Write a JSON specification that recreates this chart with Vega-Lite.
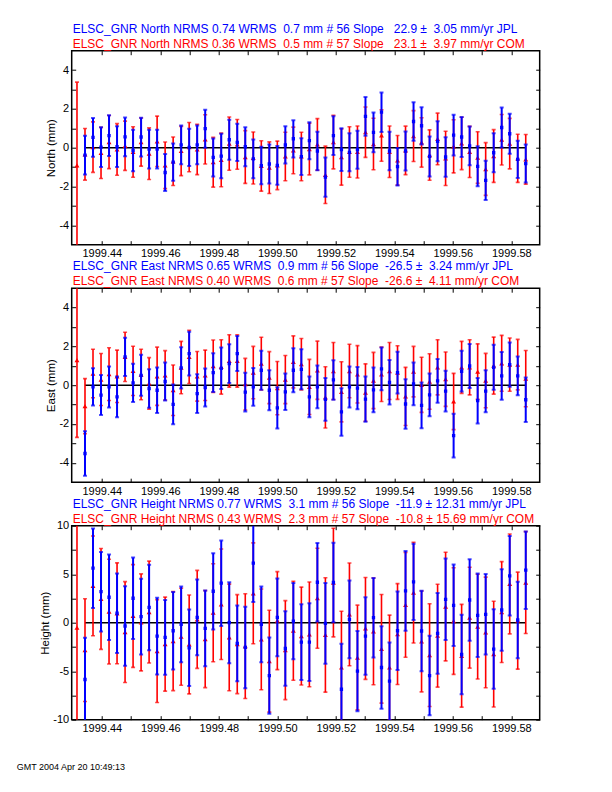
{
"$schema": "https://vega.github.io/schema/vega-lite/v6.json",
"background": "white",
"autosize": {"type": "pad"},
"padding": {"left": 16.7, "top": 21.7, "right": 5, "bottom": 5},
"title": {"text": "GMT  2004 Apr 20 10:49:13", "orient": "bottom", "anchor": "start", "frame": "group", "dx": -55, "offset": 29, "fontSize": 9, "color": "black", "font": "Liberation Sans"},
"datasets": {"d": [
{"c":"N","o":"COM","t":1999.431507,"v":-0.91,"e":4.29},
{"c":"N","o":"COM","t":1999.434247,"v":-0.34,"e":1.33},
{"c":"N","o":"COM","t":1999.436986,"v":0.03,"e":1.3},
{"c":"N","o":"COM","t":1999.439726,"v":-0.27,"e":1.32},
{"c":"N","o":"COM","t":1999.442466,"v":0.29,"e":1.37},
{"c":"N","o":"COM","t":1999.445205,"v":-0.09,"e":1.33},
{"c":"N","o":"COM","t":1999.447945,"v":0.10,"e":1.27},
{"c":"N","o":"COM","t":1999.450685,"v":-0.22,"e":1.3},
{"c":"N","o":"COM","t":1999.453425,"v":0.29,"e":1.24},
{"c":"N","o":"COM","t":1999.456164,"v":-0.31,"e":1.33},
{"c":"N","o":"COM","t":1999.458904,"v":0.33,"e":1.3},
{"c":"N","o":"COM","t":1999.461644,"v":-0.91,"e":1.2},
{"c":"N","o":"COM","t":1999.464384,"v":-0.70,"e":1.25},
{"c":"N","o":"COM","t":1999.467123,"v":-0.17,"e":1.27},
{"c":"N","o":"COM","t":1999.469863,"v":0.03,"e":1.27},
{"c":"N","o":"COM","t":1999.472603,"v":-0.09,"e":1.3},
{"c":"N","o":"COM","t":1999.475342,"v":0.43,"e":1.27},
{"c":"N","o":"COM","t":1999.478082,"v":-0.75,"e":1.28},
{"c":"N","o":"COM","t":1999.480822,"v":-0.63,"e":1.38},
{"c":"N","o":"COM","t":1999.483562,"v":0.21,"e":1.37},
{"c":"N","o":"COM","t":1999.486301,"v":0.17,"e":1.28},
{"c":"N","o":"COM","t":1999.489041,"v":-0.48,"e":1.36},
{"c":"N","o":"COM","t":1999.491781,"v":-0.53,"e":1.34},
{"c":"N","o":"COM","t":1999.494521,"v":-0.94,"e":1.3},
{"c":"N","o":"COM","t":1999.497260,"v":-1.03,"e":1.33},
{"c":"N","o":"COM","t":1999.500000,"v":-0.91,"e":1.25},
{"c":"N","o":"COM","t":1999.502740,"v":-0.45,"e":1.25},
{"c":"N","o":"COM","t":1999.505479,"v":-0.14,"e":1.2},
{"c":"N","o":"COM","t":1999.508219,"v":-0.45,"e":1.25},
{"c":"N","o":"COM","t":1999.510959,"v":-0.07,"e":1.33},
{"c":"N","o":"COM","t":1999.513699,"v":0.17,"e":1.33},
{"c":"N","o":"COM","t":1999.516438,"v":-1.40,"e":1.48},
{"c":"N","o":"COM","t":1999.519178,"v":0.29,"e":1.38},
{"c":"N","o":"COM","t":1999.521918,"v":-0.48,"e":1.45},
{"c":"N","o":"COM","t":1999.524658,"v":-0.22,"e":1.3},
{"c":"N","o":"COM","t":1999.527397,"v":-0.22,"e":1.34},
{"c":"N","o":"COM","t":1999.530137,"v":0.80,"e":1.3},
{"c":"N","o":"COM","t":1999.532877,"v":0.19,"e":1.33},
{"c":"N","o":"COM","t":1999.535616,"v":0.63,"e":1.33},
{"c":"N","o":"COM","t":1999.538356,"v":-0.21,"e":1.33},
{"c":"N","o":"COM","t":1999.541096,"v":-0.65,"e":1.28},
{"c":"N","o":"COM","t":1999.543836,"v":-0.14,"e":1.25},
{"c":"N","o":"COM","t":1999.546575,"v":0.60,"e":1.31},
{"c":"N","o":"COM","t":1999.549315,"v":0.27,"e":1.27},
{"c":"N","o":"COM","t":1999.552055,"v":-0.38,"e":1.3},
{"c":"N","o":"COM","t":1999.554795,"v":0.45,"e":1.33},
{"c":"N","o":"COM","t":1999.557534,"v":-0.55,"e":1.4},
{"c":"N","o":"COM","t":1999.560274,"v":0.07,"e":1.37},
{"c":"N","o":"COM","t":1999.563014,"v":0.22,"e":1.35},
{"c":"N","o":"COM","t":1999.565753,"v":-0.22,"e":1.32},
{"c":"N","o":"COM","t":1999.568493,"v":-0.51,"e":1.33},
{"c":"N","o":"COM","t":1999.571233,"v":-1.10,"e":1.36},
{"c":"N","o":"COM","t":1999.573973,"v":-0.43,"e":1.36},
{"c":"N","o":"COM","t":1999.576712,"v":0.41,"e":1.3},
{"c":"N","o":"COM","t":1999.579452,"v":0.21,"e":1.3},
{"c":"N","o":"COM","t":1999.582192,"v":-0.55,"e":1.24},
{"c":"N","o":"COM","t":1999.584932,"v":-0.60,"e":1.28},
{"c":"N","o":"JPL","t":1999.434247,"v":-0.38,"e":1.0},
{"c":"N","o":"JPL","t":1999.436986,"v":0.53,"e":1.0},
{"c":"N","o":"JPL","t":1999.439726,"v":0.03,"e":1.03},
{"c":"N","o":"JPL","t":1999.442466,"v":0.62,"e":1.05},
{"c":"N","o":"JPL","t":1999.445205,"v":0.05,"e":1.05},
{"c":"N","o":"JPL","t":1999.447945,"v":0.56,"e":1.0},
{"c":"N","o":"JPL","t":1999.450685,"v":-0.14,"e":1.07},
{"c":"N","o":"JPL","t":1999.453425,"v":0.55,"e":1.0},
{"c":"N","o":"JPL","t":1999.456164,"v":-0.07,"e":1.0},
{"c":"N","o":"JPL","t":1999.458904,"v":-0.07,"e":1.0},
{"c":"N","o":"JPL","t":1999.461644,"v":-1.28,"e":0.95},
{"c":"N","o":"JPL","t":1999.464384,"v":-0.74,"e":0.96},
{"c":"N","o":"JPL","t":1999.467123,"v":0.15,"e":1.0},
{"c":"N","o":"JPL","t":1999.469863,"v":0.02,"e":0.96},
{"c":"N","o":"JPL","t":1999.472603,"v":0.15,"e":1.0},
{"c":"N","o":"JPL","t":1999.475342,"v":0.98,"e":0.98},
{"c":"N","o":"JPL","t":1999.478082,"v":-0.50,"e":0.98},
{"c":"N","o":"JPL","t":1999.480822,"v":-0.43,"e":1.15},
{"c":"N","o":"JPL","t":1999.483562,"v":0.41,"e":1.03},
{"c":"N","o":"JPL","t":1999.486301,"v":0.27,"e":0.96},
{"c":"N","o":"JPL","t":1999.489041,"v":0.05,"e":1.01},
{"c":"N","o":"JPL","t":1999.491781,"v":-0.58,"e":1.0},
{"c":"N","o":"JPL","t":1999.494521,"v":-0.92,"e":0.97},
{"c":"N","o":"JPL","t":1999.497260,"v":-0.84,"e":1.0},
{"c":"N","o":"JPL","t":1999.500000,"v":-0.91,"e":1.0},
{"c":"N","o":"JPL","t":1999.502740,"v":0.14,"e":0.96},
{"c":"N","o":"JPL","t":1999.505479,"v":0.46,"e":0.96},
{"c":"N","o":"JPL","t":1999.508219,"v":-0.46,"e":0.95},
{"c":"N","o":"JPL","t":1999.510959,"v":0.36,"e":0.95},
{"c":"N","o":"JPL","t":1999.513699,"v":-0.17,"e":0.99},
{"c":"N","o":"JPL","t":1999.516438,"v":-1.52,"e":1.01},
{"c":"N","o":"JPL","t":1999.519178,"v":0.62,"e":1.0},
{"c":"N","o":"JPL","t":1999.521918,"v":-0.10,"e":1.1},
{"c":"N","o":"JPL","t":1999.524658,"v":-0.24,"e":0.98},
{"c":"N","o":"JPL","t":1999.527397,"v":-0.10,"e":0.98},
{"c":"N","o":"JPL","t":1999.530137,"v":1.61,"e":1.0},
{"c":"N","o":"JPL","t":1999.532877,"v":0.79,"e":1.02},
{"c":"N","o":"JPL","t":1999.535616,"v":1.83,"e":1.02},
{"c":"N","o":"JPL","t":1999.538356,"v":-0.17,"e":0.99},
{"c":"N","o":"JPL","t":1999.541096,"v":-0.98,"e":0.97},
{"c":"N","o":"JPL","t":1999.543836,"v":-0.17,"e":1.0},
{"c":"N","o":"JPL","t":1999.546575,"v":1.35,"e":0.99},
{"c":"N","o":"JPL","t":1999.549315,"v":1.13,"e":0.96},
{"c":"N","o":"JPL","t":1999.552055,"v":-0.45,"e":1.03},
{"c":"N","o":"JPL","t":1999.554795,"v":0.33,"e":1.03},
{"c":"N","o":"JPL","t":1999.557534,"v":-0.48,"e":1.02},
{"c":"N","o":"JPL","t":1999.560274,"v":0.65,"e":1.05},
{"c":"N","o":"JPL","t":1999.563014,"v":0.55,"e":1.03},
{"c":"N","o":"JPL","t":1999.565753,"v":0.09,"e":1.0},
{"c":"N","o":"JPL","t":1999.568493,"v":-0.96,"e":1.03},
{"c":"N","o":"JPL","t":1999.571233,"v":-1.68,"e":1.01},
{"c":"N","o":"JPL","t":1999.573973,"v":-0.26,"e":1.0},
{"c":"N","o":"JPL","t":1999.576712,"v":1.04,"e":1.03},
{"c":"N","o":"JPL","t":1999.579452,"v":0.72,"e":1.03},
{"c":"N","o":"JPL","t":1999.582192,"v":-0.60,"e":0.96},
{"c":"N","o":"JPL","t":1999.584932,"v":-0.82,"e":0.98},
{"c":"E","o":"COM","t":1999.431507,"v":1.29,"e":3.98},
{"c":"E","o":"COM","t":1999.434247,"v":-1.08,"e":1.42},
{"c":"E","o":"COM","t":1999.436986,"v":0.60,"e":1.25},
{"c":"E","o":"COM","t":1999.439726,"v":0.29,"e":1.34},
{"c":"E","o":"COM","t":1999.442466,"v":0.57,"e":1.36},
{"c":"E","o":"COM","t":1999.445205,"v":0.46,"e":1.35},
{"c":"E","o":"COM","t":1999.447945,"v":1.46,"e":1.27},
{"c":"E","o":"COM","t":1999.450685,"v":0.74,"e":1.27},
{"c":"E","o":"COM","t":1999.453425,"v":0.55,"e":1.3},
{"c":"E","o":"COM","t":1999.456164,"v":0.09,"e":1.33},
{"c":"E","o":"COM","t":1999.458904,"v":0.46,"e":1.5},
{"c":"E","o":"COM","t":1999.461644,"v":0.51,"e":1.27},
{"c":"E","o":"COM","t":1999.464384,"v":-0.26,"e":1.3},
{"c":"E","o":"COM","t":1999.467123,"v":0.91,"e":1.35},
{"c":"E","o":"COM","t":1999.469863,"v":1.46,"e":1.37},
{"c":"E","o":"COM","t":1999.472603,"v":0.46,"e":1.28},
{"c":"E","o":"COM","t":1999.475342,"v":0.51,"e":1.3},
{"c":"E","o":"COM","t":1999.478082,"v":0.98,"e":1.35},
{"c":"E","o":"COM","t":1999.480822,"v":0.94,"e":1.4},
{"c":"E","o":"COM","t":1999.483562,"v":1.25,"e":1.35},
{"c":"E","o":"COM","t":1999.486301,"v":1.25,"e":1.35},
{"c":"E","o":"COM","t":1999.489041,"v":0.05,"e":1.33},
{"c":"E","o":"COM","t":1999.491781,"v":0.65,"e":1.35},
{"c":"E","o":"COM","t":1999.494521,"v":1.11,"e":1.36},
{"c":"E","o":"COM","t":1999.497260,"v":0.39,"e":1.34},
{"c":"E","o":"COM","t":1999.500000,"v":-0.15,"e":1.37},
{"c":"E","o":"COM","t":1999.502740,"v":0.29,"e":1.24},
{"c":"E","o":"COM","t":1999.505479,"v":1.20,"e":1.34},
{"c":"E","o":"COM","t":1999.508219,"v":1.08,"e":1.33},
{"c":"E","o":"COM","t":1999.510959,"v":-0.09,"e":1.42},
{"c":"E","o":"COM","t":1999.513699,"v":0.77,"e":1.5},
{"c":"E","o":"COM","t":1999.516438,"v":-0.63,"e":1.58},
{"c":"E","o":"COM","t":1999.519178,"v":0.73,"e":1.47},
{"c":"E","o":"COM","t":1999.521918,"v":-0.34,"e":1.55},
{"c":"E","o":"COM","t":1999.524658,"v":0.73,"e":1.38},
{"c":"E","o":"COM","t":1999.527397,"v":0.56,"e":1.48},
{"c":"E","o":"COM","t":1999.530137,"v":-0.38,"e":1.48},
{"c":"E","o":"COM","t":1999.532877,"v":0.24,"e":1.45},
{"c":"E","o":"COM","t":1999.535616,"v":0.56,"e":1.4},
{"c":"E","o":"COM","t":1999.538356,"v":0.73,"e":1.47},
{"c":"E","o":"COM","t":1999.541096,"v":0.65,"e":1.38},
{"c":"E","o":"COM","t":1999.543836,"v":-0.58,"e":1.5},
{"c":"E","o":"COM","t":1999.546575,"v":0.70,"e":1.3},
{"c":"E","o":"COM","t":1999.549315,"v":0.02,"e":1.42},
{"c":"E","o":"COM","t":1999.552055,"v":0.19,"e":1.43},
{"c":"E","o":"COM","t":1999.554795,"v":0.92,"e":1.42},
{"c":"E","o":"COM","t":1999.557534,"v":0.31,"e":1.4},
{"c":"E","o":"COM","t":1999.560274,"v":-0.84,"e":1.45},
{"c":"E","o":"COM","t":1999.563014,"v":0.92,"e":1.34},
{"c":"E","o":"COM","t":1999.565753,"v":0.92,"e":1.42},
{"c":"E","o":"COM","t":1999.568493,"v":0.70,"e":1.43},
{"c":"E","o":"COM","t":1999.571233,"v":0.24,"e":1.4},
{"c":"E","o":"COM","t":1999.573973,"v":1.01,"e":1.47},
{"c":"E","o":"COM","t":1999.576712,"v":1.13,"e":1.44},
{"c":"E","o":"COM","t":1999.579452,"v":1.06,"e":1.37},
{"c":"E","o":"COM","t":1999.582192,"v":1.06,"e":1.3},
{"c":"E","o":"COM","t":1999.584932,"v":0.34,"e":1.45},
{"c":"E","o":"JPL","t":1999.434247,"v":-3.52,"e":1.15},
{"c":"E","o":"JPL","t":1999.436986,"v":-0.09,"e":0.96},
{"c":"E","o":"JPL","t":1999.439726,"v":-0.51,"e":1.03},
{"c":"E","o":"JPL","t":1999.442466,"v":-0.09,"e":1.06},
{"c":"E","o":"JPL","t":1999.445205,"v":-0.60,"e":1.05},
{"c":"E","o":"JPL","t":1999.447945,"v":1.46,"e":0.98},
{"c":"E","o":"JPL","t":1999.450685,"v":0.12,"e":0.99},
{"c":"E","o":"JPL","t":1999.453425,"v":0.51,"e":1.06},
{"c":"E","o":"JPL","t":1999.456164,"v":-0.17,"e":0.99},
{"c":"E","o":"JPL","t":1999.458904,"v":-0.26,"e":1.17},
{"c":"E","o":"JPL","t":1999.461644,"v":0.19,"e":0.98},
{"c":"E","o":"JPL","t":1999.464384,"v":-0.99,"e":1.02},
{"c":"E","o":"JPL","t":1999.467123,"v":0.89,"e":1.06},
{"c":"E","o":"JPL","t":1999.469863,"v":1.63,"e":1.13},
{"c":"E","o":"JPL","t":1999.472603,"v":-0.43,"e":1.0},
{"c":"E","o":"JPL","t":1999.475342,"v":-0.12,"e":0.98},
{"c":"E","o":"JPL","t":1999.478082,"v":0.65,"e":1.0},
{"c":"E","o":"JPL","t":1999.480822,"v":0.87,"e":1.07},
{"c":"E","o":"JPL","t":1999.483562,"v":1.11,"e":1.0},
{"c":"E","o":"JPL","t":1999.486301,"v":1.63,"e":0.9},
{"c":"E","o":"JPL","t":1999.489041,"v":-0.36,"e":1.0},
{"c":"E","o":"JPL","t":1999.491781,"v":-0.09,"e":0.97},
{"c":"E","o":"JPL","t":1999.494521,"v":0.77,"e":1.0},
{"c":"E","o":"JPL","t":1999.497260,"v":-0.26,"e":1.03},
{"c":"E","o":"JPL","t":1999.500000,"v":-1.17,"e":1.06},
{"c":"E","o":"JPL","t":1999.502740,"v":-0.34,"e":0.94},
{"c":"E","o":"JPL","t":1999.505479,"v":0.77,"e":1.14},
{"c":"E","o":"JPL","t":1999.508219,"v":0.82,"e":1.03},
{"c":"E","o":"JPL","t":1999.510959,"v":-0.60,"e":1.05},
{"c":"E","o":"JPL","t":1999.513699,"v":-0.09,"e":1.1},
{"c":"E","o":"JPL","t":1999.516438,"v":-0.73,"e":1.1},
{"c":"E","o":"JPL","t":1999.519178,"v":0.27,"e":1.02},
{"c":"E","o":"JPL","t":1999.521918,"v":-1.38,"e":1.22},
{"c":"E","o":"JPL","t":1999.524658,"v":-0.09,"e":1.06},
{"c":"E","o":"JPL","t":1999.527397,"v":-0.15,"e":1.09},
{"c":"E","o":"JPL","t":1999.530137,"v":-0.72,"e":1.17},
{"c":"E","o":"JPL","t":1999.532877,"v":-0.24,"e":1.15},
{"c":"E","o":"JPL","t":1999.535616,"v":0.84,"e":1.1},
{"c":"E","o":"JPL","t":1999.538356,"v":0.15,"e":1.15},
{"c":"E","o":"JPL","t":1999.541096,"v":0.65,"e":1.08},
{"c":"E","o":"JPL","t":1999.543836,"v":-0.97,"e":1.28},
{"c":"E","o":"JPL","t":1999.546575,"v":0.07,"e":1.1},
{"c":"E","o":"JPL","t":1999.549315,"v":-1.04,"e":1.18},
{"c":"E","o":"JPL","t":1999.552055,"v":-0.50,"e":1.1},
{"c":"E","o":"JPL","t":1999.554795,"v":0.22,"e":1.13},
{"c":"E","o":"JPL","t":1999.557534,"v":-0.31,"e":1.05},
{"c":"E","o":"JPL","t":1999.560274,"v":-2.60,"e":1.13},
{"c":"E","o":"JPL","t":1999.563014,"v":0.72,"e":1.05},
{"c":"E","o":"JPL","t":1999.565753,"v":0.99,"e":1.13},
{"c":"E","o":"JPL","t":1999.568493,"v":-0.80,"e":1.17},
{"c":"E","o":"JPL","t":1999.571233,"v":-0.31,"e":1.08},
{"c":"E","o":"JPL","t":1999.573973,"v":0.92,"e":1.16},
{"c":"E","o":"JPL","t":1999.576712,"v":0.48,"e":1.23},
{"c":"E","o":"JPL","t":1999.579452,"v":1.06,"e":1.14},
{"c":"E","o":"JPL","t":1999.582192,"v":0.48,"e":1.0},
{"c":"E","o":"JPL","t":1999.584932,"v":-0.75,"e":1.15},
{"c":"H","o":"COM","t":1999.431507,"v":-0.52,"e":11},
{"c":"H","o":"COM","t":1999.434247,"v":-2.83,"e":5.3},
{"c":"H","o":"COM","t":1999.436986,"v":3.79,"e":5.14},
{"c":"H","o":"COM","t":1999.439726,"v":2.45,"e":5.2},
{"c":"H","o":"COM","t":1999.442466,"v":1.14,"e":5.4},
{"c":"H","o":"COM","t":1999.445205,"v":0.97,"e":5.2},
{"c":"H","o":"COM","t":1999.447945,"v":-0.97,"e":5.2},
{"c":"H","o":"COM","t":1999.450685,"v":0.69,"e":5.3},
{"c":"H","o":"COM","t":1999.453425,"v":0.03,"e":5.0},
{"c":"H","o":"COM","t":1999.456164,"v":1.10,"e":5.25},
{"c":"H","o":"COM","t":1999.458904,"v":-2.93,"e":5.3},
{"c":"H","o":"COM","t":1999.461644,"v":-2.21,"e":4.85},
{"c":"H","o":"COM","t":1999.464384,"v":-1.90,"e":5.1},
{"c":"H","o":"COM","t":1999.467123,"v":-1.45,"e":5.0},
{"c":"H","o":"COM","t":1999.469863,"v":-2.24,"e":5.1},
{"c":"H","o":"COM","t":1999.472603,"v":0.34,"e":5.05},
{"c":"H","o":"COM","t":1999.475342,"v":-1.69,"e":5.0},
{"c":"H","o":"COM","t":1999.478082,"v":1.03,"e":5.05},
{"c":"H","o":"COM","t":1999.480822,"v":1.90,"e":5.7},
{"c":"H","o":"COM","t":1999.483562,"v":-1.52,"e":5.5},
{"c":"H","o":"COM","t":1999.486301,"v":-2.21,"e":5.1},
{"c":"H","o":"COM","t":1999.489041,"v":-2.41,"e":5.4},
{"c":"H","o":"COM","t":1999.491781,"v":3.03,"e":5.2},
{"c":"H","o":"COM","t":1999.494521,"v":-1.72,"e":5.2},
{"c":"H","o":"COM","t":1999.497260,"v":-3.97,"e":5.25},
{"c":"H","o":"COM","t":1999.500000,"v":0.21,"e":5.05},
{"c":"H","o":"COM","t":1999.502740,"v":-2.83,"e":5.1},
{"c":"H","o":"COM","t":1999.505479,"v":-0.83,"e":5.1},
{"c":"H","o":"COM","t":1999.508219,"v":-1.38,"e":5.05},
{"c":"H","o":"COM","t":1999.510959,"v":-1.21,"e":5.4},
{"c":"H","o":"COM","t":1999.513699,"v":2.52,"e":5.15},
{"c":"H","o":"COM","t":1999.516438,"v":-1.26,"e":5.9},
{"c":"H","o":"COM","t":1999.519178,"v":4.14,"e":5.6},
{"c":"H","o":"COM","t":1999.521918,"v":-4.62,"e":5.8},
{"c":"H","o":"COM","t":1999.524658,"v":0.86,"e":5.3},
{"c":"H","o":"COM","t":1999.527397,"v":-3.59,"e":5.4},
{"c":"H","o":"COM","t":1999.530137,"v":-0.59,"e":5.25},
{"c":"H","o":"COM","t":1999.532877,"v":-0.90,"e":5.5},
{"c":"H","o":"COM","t":1999.535616,"v":-2.69,"e":5.6},
{"c":"H","o":"COM","t":1999.538356,"v":-4.62,"e":5.4},
{"c":"H","o":"COM","t":1999.541096,"v":-1.17,"e":5.2},
{"c":"H","o":"COM","t":1999.543836,"v":1.83,"e":5.4},
{"c":"H","o":"COM","t":1999.546575,"v":3.10,"e":5.2},
{"c":"H","o":"COM","t":1999.549315,"v":-1.93,"e":5.2},
{"c":"H","o":"COM","t":1999.552055,"v":-3.34,"e":5.3},
{"c":"H","o":"COM","t":1999.554795,"v":-1.34,"e":5.3},
{"c":"H","o":"COM","t":1999.557534,"v":1.66,"e":5.6},
{"c":"H","o":"COM","t":1999.560274,"v":0.17,"e":5.5},
{"c":"H","o":"COM","t":1999.563014,"v":-3.41,"e":5.3},
{"c":"H","o":"COM","t":1999.565753,"v":0.52,"e":5.2},
{"c":"H","o":"COM","t":1999.568493,"v":-0.41,"e":5.4},
{"c":"H","o":"COM","t":1999.571233,"v":-1.00,"e":5.7},
{"c":"H","o":"COM","t":1999.573973,"v":-3.24,"e":5.45},
{"c":"H","o":"COM","t":1999.576712,"v":1.10,"e":5.2},
{"c":"H","o":"COM","t":1999.579452,"v":4.00,"e":5.15},
{"c":"H","o":"COM","t":1999.582192,"v":0.21,"e":5.0},
{"c":"H","o":"COM","t":1999.584932,"v":4.14,"e":5.25},
{"c":"H","o":"JPL","t":1999.434247,"v":-5.86,"e":4.3},
{"c":"H","o":"JPL","t":1999.436986,"v":5.62,"e":4.1},
{"c":"H","o":"JPL","t":1999.439726,"v":3.20,"e":4.1},
{"c":"H","o":"JPL","t":1999.442466,"v":2.62,"e":4.4},
{"c":"H","o":"JPL","t":1999.445205,"v":0.97,"e":4.1},
{"c":"H","o":"JPL","t":1999.447945,"v":-0.34,"e":4.1},
{"c":"H","o":"JPL","t":1999.450685,"v":2.52,"e":4.2},
{"c":"H","o":"JPL","t":1999.453425,"v":0.62,"e":3.9},
{"c":"H","o":"JPL","t":1999.456164,"v":1.57,"e":4.4},
{"c":"H","o":"JPL","t":1999.458904,"v":-1.38,"e":3.95},
{"c":"H","o":"JPL","t":1999.461644,"v":-1.52,"e":3.85},
{"c":"H","o":"JPL","t":1999.464384,"v":-0.83,"e":4.0},
{"c":"H","o":"JPL","t":1999.467123,"v":-0.17,"e":3.9},
{"c":"H","o":"JPL","t":1999.469863,"v":-2.59,"e":3.95},
{"c":"H","o":"JPL","t":1999.472603,"v":0.55,"e":3.9},
{"c":"H","o":"JPL","t":1999.475342,"v":-0.59,"e":3.9},
{"c":"H","o":"JPL","t":1999.478082,"v":3.24,"e":3.93},
{"c":"H","o":"JPL","t":1999.480822,"v":4.07,"e":4.4},
{"c":"H","o":"JPL","t":1999.483562,"v":0.00,"e":4.17},
{"c":"H","o":"JPL","t":1999.486301,"v":-2.14,"e":3.9},
{"c":"H","o":"JPL","t":1999.489041,"v":-2.55,"e":4.2},
{"c":"H","o":"JPL","t":1999.491781,"v":6.14,"e":4.0},
{"c":"H","o":"JPL","t":1999.494521,"v":-0.17,"e":3.9},
{"c":"H","o":"JPL","t":1999.497260,"v":-5.45,"e":3.93},
{"c":"H","o":"JPL","t":1999.500000,"v":0.55,"e":4.0},
{"c":"H","o":"JPL","t":1999.502740,"v":-2.66,"e":3.85},
{"c":"H","o":"JPL","t":1999.505479,"v":0.17,"e":3.93},
{"c":"H","o":"JPL","t":1999.508219,"v":-2.00,"e":3.9},
{"c":"H","o":"JPL","t":1999.510959,"v":-2.00,"e":4.0},
{"c":"H","o":"JPL","t":1999.513699,"v":4.17,"e":4.05},
{"c":"H","o":"JPL","t":1999.516438,"v":-0.07,"e":4.17},
{"c":"H","o":"JPL","t":1999.519178,"v":4.14,"e":4.1},
{"c":"H","o":"JPL","t":1999.521918,"v":-6.86,"e":4.7},
{"c":"H","o":"JPL","t":1999.524658,"v":0.34,"e":4.0},
{"c":"H","o":"JPL","t":1999.527397,"v":-5.00,"e":4.14},
{"c":"H","o":"JPL","t":1999.530137,"v":-1.38,"e":4.0},
{"c":"H","o":"JPL","t":1999.532877,"v":0.52,"e":4.1},
{"c":"H","o":"JPL","t":1999.535616,"v":-4.62,"e":4.26},
{"c":"H","o":"JPL","t":1999.538356,"v":-6.03,"e":4.0},
{"c":"H","o":"JPL","t":1999.541096,"v":-0.83,"e":4.05},
{"c":"H","o":"JPL","t":1999.543836,"v":3.28,"e":4.1},
{"c":"H","o":"JPL","t":1999.546575,"v":4.21,"e":3.93},
{"c":"H","o":"JPL","t":1999.549315,"v":-0.86,"e":4.14},
{"c":"H","o":"JPL","t":1999.552055,"v":-5.45,"e":4.1},
{"c":"H","o":"JPL","t":1999.554795,"v":-1.10,"e":4.17},
{"c":"H","o":"JPL","t":1999.557534,"v":2.41,"e":4.2},
{"c":"H","o":"JPL","t":1999.560274,"v":1.79,"e":4.2},
{"c":"H","o":"JPL","t":1999.563014,"v":-3.28,"e":4.1},
{"c":"H","o":"JPL","t":1999.565753,"v":2.34,"e":4.2},
{"c":"H","o":"JPL","t":1999.568493,"v":0.76,"e":4.3},
{"c":"H","o":"JPL","t":1999.571233,"v":0.86,"e":4.15},
{"c":"H","o":"JPL","t":1999.573973,"v":-2.72,"e":4.1},
{"c":"H","o":"JPL","t":1999.576712,"v":1.31,"e":4.2},
{"c":"H","o":"JPL","t":1999.579452,"v":4.83,"e":4.1},
{"c":"H","o":"JPL","t":1999.582192,"v":0.28,"e":3.95},
{"c":"H","o":"JPL","t":1999.584932,"v":5.41,"e":4.0}
]},
"data": {"name": "d"},
"spacing": 43.5,
"bounds": "flush",
"vconcat": [
{
 "width": 468, "height": 194,
 "title": {"text": "ELSC_GNR North NRMS 0.74 WRMS \u00a00.7 mm # 56 Slope \u00a0 22.9 ± \u00a03.05 mm/yr JPL", "subtitle": "ELSC_GNR North NRMS 0.36 WRMS \u00a00.5 mm # 57 Slope \u00a0 23.1 ± \u00a03.97 mm/yr COM"},
 "transform": [{"filter": "datum.c == 'N'"}],
 "resolve": {"axis": {"x": "independent", "y": "independent"}},
 "layer": [
  {"transform": [{"filter": "datum.o == 'JPL'"}],
   "mark": {"type": "rule", "color": "black", "strokeWidth": 1.5},
   "encoding": {
    "x": {"aggregate": "min", "field": "t", "type": "quantitative", "scale": {"domain": [1999.4297, 1999.5897], "nice": false, "zero": false},
          "axis": {"orient": "bottom", "title": null, "values": [1999.44,1999.45,1999.46,1999.47,1999.48,1999.49,1999.5,1999.51,1999.52,1999.53,1999.54,1999.55,1999.56,1999.57,1999.58], "labelExpr": "round(datum.value*100) % 2 == 0 ? format(datum.value, '.2f') : ''"}},
    "x2": {"aggregate": "max", "field": "t"},
    "y": {"datum": 0, "type": "quantitative", "scale": {"domain": [-5, 5], "nice": false, "zero": false},
          "axis": {"orient": "left", "title": "North (mm)", "values": [-4,-3,-2,-1,0,1,2,3,4], "labelExpr": "datum.value % 2 == 0 ? (datum.value < 0 ? '-' + abs(datum.value) : '' + datum.value) : ''"}}
   }},
  {"transform": [{"filter": "datum.o == 'COM'"}],
   "mark": {"type": "errorbar", "ticks": true, "size": 4, "thickness": 1.6, "color": "red", "clip": true},
   "encoding": {"x": {"field": "t", "type": "quantitative", "axis": null}, "y": {"field": "v", "type": "quantitative", "axis": null}, "yError": {"field": "e"}}},
  {"transform": [{"filter": "datum.o == 'COM'"}],
   "mark": {"type": "point", "shape": "triangle-up", "filled": true, "color": "red", "opacity": 1, "size": 24, "clip": true},
   "encoding": {"x": {"field": "t", "type": "quantitative", "axis": {"orient": "top", "labels": false, "title": null, "values": [1999.44,1999.45,1999.46,1999.47,1999.48,1999.49,1999.5,1999.51,1999.52,1999.53,1999.54,1999.55,1999.56,1999.57,1999.58]}},
                "y": {"field": "v", "type": "quantitative", "axis": {"orient": "right", "labels": false, "title": null, "values": [-4,-3,-2,-1,0,1,2,3,4]}}}},
  {"transform": [{"filter": "datum.o == 'JPL'"}],
   "mark": {"type": "errorbar", "ticks": true, "size": 4, "thickness": 2, "color": "blue", "clip": true},
   "encoding": {"x": {"field": "t", "type": "quantitative", "axis": null}, "y": {"field": "v", "type": "quantitative", "axis": null}, "yError": {"field": "e"}}},
  {"transform": [{"filter": "datum.o == 'JPL'"}],
   "mark": {"type": "square", "filled": true, "color": "blue", "opacity": 1, "size": 11, "clip": true},
   "encoding": {"x": {"field": "t", "type": "quantitative", "axis": null}, "y": {"field": "v", "type": "quantitative", "axis": null}}}
 ]
},
{
 "width": 468, "height": 194,
 "title": {"text": "ELSC_GNR East NRMS 0.65 WRMS \u00a00.9 mm # 56 Slope \u00a0-26.5 ± \u00a03.24 mm/yr JPL", "subtitle": "ELSC_GNR East NRMS 0.40 WRMS \u00a00.6 mm # 57 Slope \u00a0-26.6 ± \u00a04.11 mm/yr COM"},
 "transform": [{"filter": "datum.c == 'E'"}],
 "resolve": {"axis": {"x": "independent", "y": "independent"}},
 "layer": [
  {"transform": [{"filter": "datum.o == 'JPL'"}],
   "mark": {"type": "rule", "color": "black", "strokeWidth": 1.5},
   "encoding": {
    "x": {"aggregate": "min", "field": "t", "type": "quantitative", "scale": {"domain": [1999.4297, 1999.5897], "nice": false, "zero": false},
          "axis": {"orient": "bottom", "title": null, "values": [1999.44,1999.45,1999.46,1999.47,1999.48,1999.49,1999.5,1999.51,1999.52,1999.53,1999.54,1999.55,1999.56,1999.57,1999.58], "labelExpr": "round(datum.value*100) % 2 == 0 ? format(datum.value, '.2f') : ''"}},
    "x2": {"aggregate": "max", "field": "t"},
    "y": {"datum": 0, "type": "quantitative", "scale": {"domain": [-5, 5], "nice": false, "zero": false},
          "axis": {"orient": "left", "title": "East (mm)", "values": [-4,-3,-2,-1,0,1,2,3,4], "labelExpr": "datum.value % 2 == 0 ? (datum.value < 0 ? '-' + abs(datum.value) : '' + datum.value) : ''"}}
   }},
  {"transform": [{"filter": "datum.o == 'COM'"}],
   "mark": {"type": "errorbar", "ticks": true, "size": 4, "thickness": 1.6, "color": "red", "clip": true},
   "encoding": {"x": {"field": "t", "type": "quantitative", "axis": null}, "y": {"field": "v", "type": "quantitative", "axis": null}, "yError": {"field": "e"}}},
  {"transform": [{"filter": "datum.o == 'COM'"}],
   "mark": {"type": "point", "shape": "triangle-up", "filled": true, "color": "red", "opacity": 1, "size": 24, "clip": true},
   "encoding": {"x": {"field": "t", "type": "quantitative", "axis": {"orient": "top", "labels": false, "title": null, "values": [1999.44,1999.45,1999.46,1999.47,1999.48,1999.49,1999.5,1999.51,1999.52,1999.53,1999.54,1999.55,1999.56,1999.57,1999.58]}},
                "y": {"field": "v", "type": "quantitative", "axis": {"orient": "right", "labels": false, "title": null, "values": [-4,-3,-2,-1,0,1,2,3,4]}}}},
  {"transform": [{"filter": "datum.o == 'JPL'"}],
   "mark": {"type": "errorbar", "ticks": true, "size": 4, "thickness": 2, "color": "blue", "clip": true},
   "encoding": {"x": {"field": "t", "type": "quantitative", "axis": null}, "y": {"field": "v", "type": "quantitative", "axis": null}, "yError": {"field": "e"}}},
  {"transform": [{"filter": "datum.o == 'JPL'"}],
   "mark": {"type": "square", "filled": true, "color": "blue", "opacity": 1, "size": 11, "clip": true},
   "encoding": {"x": {"field": "t", "type": "quantitative", "axis": null}, "y": {"field": "v", "type": "quantitative", "axis": null}}}
 ]
},
{
 "width": 468, "height": 194,
 "title": {"text": "ELSC_GNR Height NRMS 0.77 WRMS \u00a03.1 mm # 56 Slope \u00a0-11.9 ± 12.31 mm/yr JPL", "subtitle": "ELSC_GNR Height NRMS 0.43 WRMS \u00a02.3 mm # 57 Slope \u00a0-10.8 ± 15.69 mm/yr COM", "offset": -6},
 "transform": [{"filter": "datum.c == 'H'"}],
 "resolve": {"axis": {"x": "independent", "y": "independent"}},
 "layer": [
  {"transform": [{"filter": "datum.o == 'JPL'"}],
   "mark": {"type": "rule", "color": "black", "strokeWidth": 1.5},
   "encoding": {
    "x": {"aggregate": "min", "field": "t", "type": "quantitative", "scale": {"domain": [1999.4297, 1999.5897], "nice": false, "zero": false},
          "axis": {"orient": "bottom", "title": null, "values": [1999.44,1999.45,1999.46,1999.47,1999.48,1999.49,1999.5,1999.51,1999.52,1999.53,1999.54,1999.55,1999.56,1999.57,1999.58], "labelExpr": "round(datum.value*100) % 2 == 0 ? format(datum.value, '.2f') : ''"}},
    "x2": {"aggregate": "max", "field": "t"},
    "y": {"datum": 0, "type": "quantitative", "scale": {"domain": [-10, 10], "nice": false, "zero": false},
          "axis": {"orient": "left", "title": "Height (mm)", "values": [-10,-7.5,-5,-2.5,0,2.5,5,7.5,10], "labelExpr": "datum.value % 5 == 0 ? (datum.value < 0 ? '-' + abs(datum.value) : '' + datum.value) : ''"}}
   }},
  {"transform": [{"filter": "datum.o == 'COM'"}],
   "mark": {"type": "errorbar", "ticks": true, "size": 4, "thickness": 1.6, "color": "red", "clip": true},
   "encoding": {"x": {"field": "t", "type": "quantitative", "axis": null}, "y": {"field": "v", "type": "quantitative", "axis": null}, "yError": {"field": "e"}}},
  {"transform": [{"filter": "datum.o == 'COM'"}],
   "mark": {"type": "point", "shape": "triangle-up", "filled": true, "color": "red", "opacity": 1, "size": 24, "clip": true},
   "encoding": {"x": {"field": "t", "type": "quantitative", "axis": {"orient": "top", "labels": false, "title": null, "values": [1999.44,1999.45,1999.46,1999.47,1999.48,1999.49,1999.5,1999.51,1999.52,1999.53,1999.54,1999.55,1999.56,1999.57,1999.58]}},
                "y": {"field": "v", "type": "quantitative", "axis": {"orient": "right", "labels": false, "title": null, "values": [-10,-7.5,-5,-2.5,0,2.5,5,7.5,10]}}}},
  {"transform": [{"filter": "datum.o == 'JPL'"}],
   "mark": {"type": "errorbar", "ticks": true, "size": 4, "thickness": 2, "color": "blue", "clip": true},
   "encoding": {"x": {"field": "t", "type": "quantitative", "axis": null}, "y": {"field": "v", "type": "quantitative", "axis": null}, "yError": {"field": "e"}}},
  {"transform": [{"filter": "datum.o == 'JPL'"}],
   "mark": {"type": "square", "filled": true, "color": "blue", "opacity": 1, "size": 11, "clip": true},
   "encoding": {"x": {"field": "t", "type": "quantitative", "axis": null}, "y": {"field": "v", "type": "quantitative", "axis": null}}}
 ]
}
],
"config": {
 "view": {"stroke": "black", "strokeWidth": 1.5},
 "font": "Liberation Sans",
 "axis": {"grid": false, "domain": false, "tickSize": -4, "tickColor": "black", "tickWidth": 1, "labelFont": "Liberation Sans", "labelFontSize": 11, "labelColor": "black", "labelPadding": 7, "labelFlush": false, "labelOverlap": false, "labelBound": false, "titleFont": "Liberation Sans", "titleFontSize": 11.5, "titleFontWeight": "normal", "titleColor": "black", "titlePadding": 2},
 "title": {"anchor": "start", "frame": "group", "font": "Liberation Sans", "fontSize": 12, "fontWeight": "normal", "color": "blue", "subtitleColor": "red", "subtitleFont": "Liberation Sans", "subtitleFontSize": 12, "subtitlePadding": 0, "offset": -0.5, "dx": 1}
}
}
